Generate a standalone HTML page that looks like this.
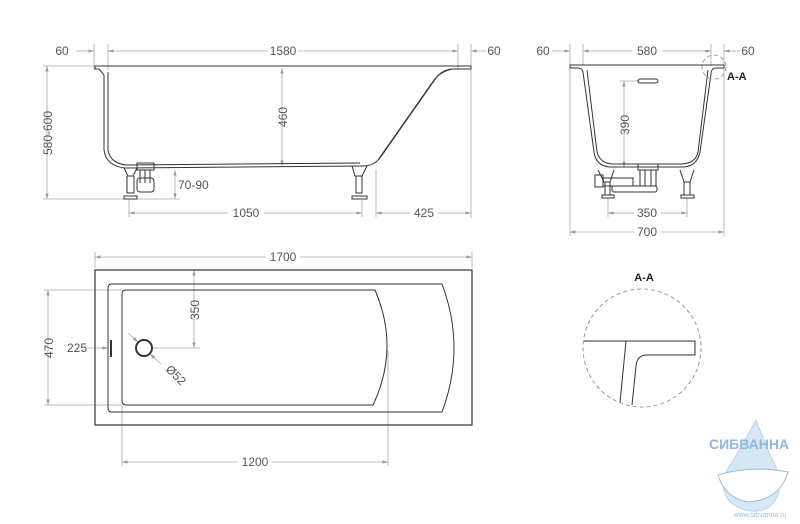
<!DOCTYPE html>
<html><head><meta charset="utf-8"><style>
html,body{margin:0;padding:0;background:#fff;width:800px;height:524px;overflow:hidden}
svg{display:block}
text{font-family:"Liberation Sans",sans-serif;fill:#555;font-size:12px}
</style></head><body>
<svg width="800" height="524" viewBox="0 0 800 524" xmlns="http://www.w3.org/2000/svg">
<defs>
<marker id="a" viewBox="0 0 10 6" refX="10" refY="3" markerWidth="7" markerHeight="5" orient="auto-start-reverse"><path d="M0,0L10,3L0,6" fill="#999"/></marker>
</defs>
<g stroke="#aaa" stroke-width="0.8" fill="none">
<!-- side view dims -->
<line x1="94" y1="44" x2="94" y2="70"/><line x1="108" y1="44" x2="108" y2="70"/>
<line x1="458" y1="44" x2="458" y2="70"/><line x1="471" y1="44" x2="471" y2="218"/>
<line x1="76" y1="51" x2="94" y2="51" marker-end="url(#a)"/>
<line x1="108" y1="51" x2="268" y2="51" marker-start="url(#a)"/>
<line x1="298" y1="51" x2="458" y2="51" marker-end="url(#a)"/>
<line x1="471" y1="51" x2="486" y2="51" marker-start="url(#a)"/>
<line x1="43" y1="66" x2="95" y2="66"/><line x1="43" y1="199" x2="180" y2="199"/>
<line x1="47" y1="66" x2="47" y2="199" marker-start="url(#a)" marker-end="url(#a)"/>
<line x1="282" y1="68" x2="282" y2="166" marker-start="url(#a)" marker-end="url(#a)"/>
<line x1="175" y1="170" x2="175" y2="199" marker-start="url(#a)" marker-end="url(#a)"/>
<line x1="129" y1="200" x2="129" y2="217"/><line x1="362" y1="200" x2="362" y2="217"/><line x1="376" y1="170" x2="376" y2="217"/>
<line x1="129" y1="213" x2="228" y2="213" marker-start="url(#a)"/>
<line x1="264" y1="213" x2="362" y2="213" marker-end="url(#a)"/>
<line x1="376" y1="213" x2="410" y2="213" marker-start="url(#a)"/>
<line x1="438" y1="213" x2="471" y2="213" marker-end="url(#a)"/>
<!-- end view dims -->
<line x1="570" y1="44" x2="570" y2="236"/><line x1="583" y1="44" x2="583" y2="66"/>
<line x1="711" y1="44" x2="711" y2="66"/><line x1="724" y1="44" x2="724" y2="236"/>
<line x1="552" y1="51" x2="570" y2="51" marker-end="url(#a)"/>
<line x1="583" y1="51" x2="632" y2="51" marker-start="url(#a)"/>
<line x1="662" y1="51" x2="711" y2="51" marker-end="url(#a)"/>
<line x1="724" y1="51" x2="740" y2="51" marker-start="url(#a)"/>
<line x1="620" y1="81" x2="640" y2="81"/>
<line x1="624" y1="81" x2="624" y2="167" marker-start="url(#a)" marker-end="url(#a)"/>
<line x1="608" y1="198" x2="608" y2="217"/><line x1="687" y1="198" x2="687" y2="217"/>
<line x1="608" y1="213" x2="634" y2="213" marker-start="url(#a)"/>
<line x1="661" y1="213" x2="687" y2="213" marker-end="url(#a)"/>
<line x1="570" y1="232" x2="634" y2="232" marker-start="url(#a)"/>
<line x1="661" y1="232" x2="724" y2="232" marker-end="url(#a)"/>
<!-- plan view dims -->
<line x1="95" y1="252" x2="95" y2="268"/><line x1="472" y1="252" x2="472" y2="268"/>
<line x1="95" y1="257" x2="266" y2="257" marker-start="url(#a)"/>
<line x1="300" y1="257" x2="472" y2="257" marker-end="url(#a)"/>
<line x1="44" y1="290" x2="122" y2="290"/><line x1="44" y1="405" x2="122" y2="405"/>
<line x1="48" y1="290" x2="48" y2="405" marker-start="url(#a)" marker-end="url(#a)"/>
<line x1="88" y1="348" x2="108" y2="348" marker-end="url(#a)"/>
<line x1="152" y1="348" x2="200" y2="348"/>
<line x1="194" y1="270" x2="194" y2="348" marker-start="url(#a)" marker-end="url(#a)"/>
<line x1="128" y1="333" x2="138" y2="342" marker-end="url(#a)"/>
<line x1="161" y1="364" x2="150" y2="354" marker-end="url(#a)"/>
<line x1="122" y1="405" x2="122" y2="466"/><line x1="388" y1="350" x2="388" y2="466"/>
<line x1="122" y1="462" x2="238" y2="462" marker-start="url(#a)"/>
<line x1="272" y1="462" x2="388" y2="462" marker-end="url(#a)"/>
</g>
<g stroke="#333" stroke-width="1" fill="none">
<!-- side view body -->
<path d="M95,66 H471 V69 H452 Q442,70 436,78 L380,158 Q374,166 362,166 L125,168 Q106,166 104,150 V75 L99,69 H95 Z"/>
<path d="M452,69 Q440,72 434,80 L378,160"/>
<path d="M108,72 V150 Q110,163 126,165 L360,163"/>
<!-- legs side -->
<path d="M124,168 L128,176 H133 L137,168 M127,176 V193 H134 V176 M124,196 H137 V199 H124Z"/>
<path d="M352,166 L355,176 H362 L367,166 M356,176 V193 H362 V176 M352,196 H367 V199 H352Z"/>
<rect x="137" y="163" width="17" height="7"/><path d="M140,170V183M145,170V183M150,170V183"/>
<rect x="137" y="178" width="17" height="14" rx="3"/>
<!-- end view -->
<path d="M570,65 H724 V68 H715 Q711,69 711,74 L700,152 Q697,166 684,167 H610 Q596,166 594,152 L583,72 Q582,68 578,68 H570 Z"/>
<path d="M587,70 L597,152 Q600,163 612,164 H682 Q696,163 698,152 L708,70"/>
<rect x="638" y="79" width="20" height="4" rx="2"/>
<rect x="638" y="164" width="20" height="6"/>
<path d="M640,170 V186 H656 V170 M645,170V186M651,170V186"/>
<path d="M598,170 L604,182 H610 L614,170 M605,182 V195 H610 V182 M602,195 H614 V198 H602Z"/>
<path d="M680,170 L684,182 H690 L694,170 M684,182 V195 H690 V182 M681,195 H694 V198 H681Z"/>
<rect x="595" y="175" width="8" height="12"/><rect x="603" y="178" width="30" height="8"/>
<rect x="612" y="186" width="45" height="6" rx="2"/>
<!-- plan view -->
<rect x="95" y="270" width="377" height="155" stroke-width="1.2"/>
<path d="M112,284 H442 Q466,348 442,412 H112 Q108,412 108,408 V288 Q108,284 112,284 Z"/>
<path d="M126,290 H375 Q400,348 373,405 H126 Q122,405 122,401 V294 Q122,290 126,290 Z"/>
<circle cx="144" cy="348" r="8" stroke-width="2"/>
<line x1="111" y1="340" x2="111" y2="357" stroke-width="2"/>
<!-- section A-A -->
<path d="M584,341 H695 V355 H647 Q637,355 636,366 L632,405"/>
<path d="M626,341 L620,403"/>
</g>
<g stroke="#999" stroke-width="1" fill="none" stroke-dasharray="4,3">
<circle cx="714" cy="67" r="12"/>
<circle cx="642" cy="348" r="59"/>
</g>
<g>
<text x="62" y="55" text-anchor="middle">60</text>
<text x="283" y="55" text-anchor="middle">1580</text>
<text x="494" y="55" text-anchor="middle">60</text>
<text transform="translate(52,133) rotate(-90)" text-anchor="middle">580-600</text>
<text transform="translate(287,117) rotate(-90)" text-anchor="middle">460</text>
<text x="178" y="189">70-90</text>
<text x="246" y="217" text-anchor="middle">1050</text>
<text x="424" y="217" text-anchor="middle">425</text>
<text x="543" y="55" text-anchor="middle">60</text>
<text x="647" y="55" text-anchor="middle">580</text>
<text x="748" y="55" text-anchor="middle">60</text>
<text x="727" y="80" style="fill:#222;font-size:11px;font-weight:bold">A-A</text>
<text transform="translate(629,125) rotate(-90)" text-anchor="middle">390</text>
<text x="647" y="217" text-anchor="middle">350</text>
<text x="647" y="236" text-anchor="middle">700</text>
<text x="283" y="261" text-anchor="middle">1700</text>
<text transform="translate(53,348) rotate(-90)" text-anchor="middle">470</text>
<text x="77" y="352" text-anchor="middle">225</text>
<text transform="translate(199,310) rotate(-90)" text-anchor="middle">350</text>
<text transform="translate(165,370) rotate(45)">Ø52</text>
<text x="255" y="466" text-anchor="middle">1200</text>
<text x="644" y="281" text-anchor="middle" style="fill:#222;font-size:11px;font-weight:bold">A-A</text>
</g>
<!-- logo -->
<path d="M756,420 Q740,450 727,470 Q715,500 745,510 Q770,515 778,495 Q783,478 770,455 Z" fill="#d7e8f5" stroke="#b8d4ec"/>
<path d="M718,475 Q750,465 788,472 Q780,500 748,502 Q725,498 718,475Z" fill="#fff" stroke="#9fb9d6"/>
<text x="749" y="449" text-anchor="middle" style="fill:#8db8e0;font-size:14px;font-weight:bold">СИБВАННА</text>
<text x="760" y="517" text-anchor="middle" style="fill:#9cc0e6;font-size:7px">www.sibvanna.ru</text>
</svg>
</body></html>
